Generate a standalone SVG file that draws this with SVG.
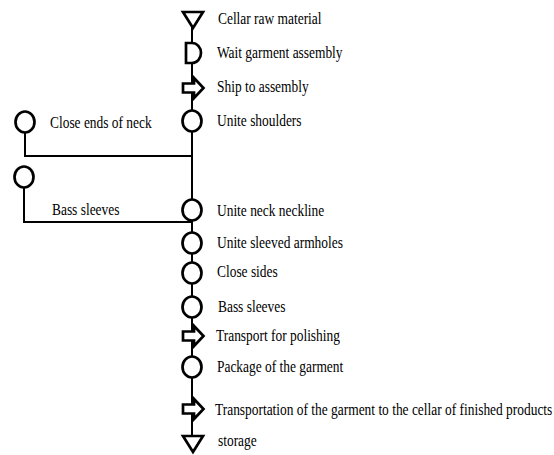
<svg xmlns="http://www.w3.org/2000/svg" width="554" height="455" viewBox="0 0 554 455">
  <defs>
    <style>
      .sym { fill: #fff; stroke: #000; stroke-width: 2.7; stroke-linejoin: miter; }
      .wire { fill: none; stroke: #000; stroke-width: 2; }
      .lbl { font-family: Liberation Serif, serif; font-size: 17px; fill: #000; }
    </style>
    <!-- process symbols, drawn around their own centre -->
    <ellipse id="op" cx="0" cy="0" rx="9.5" ry="10.5"/>
    <path id="move" d="M-9,-4.5 H2 V-10 L11.5,0 L2,10 V4.5 H-9 Z"/>
    <path id="store" d="M-10,-8 H10 L0,8 Z"/>
    <path id="wait" d="M-6,-10 H0 A9,10 0 0 1 0,10 H-6 Z"/>
  </defs>
  <rect width="554" height="455" fill="#fff"/>

  <!-- connectors -->
  <g id="connectors" class="wire">
    <line x1="192" y1="20" x2="192" y2="444"/>
    <polyline points="25,131 25,156 192,156"/>
    <polyline points="24,186 24,222 192,222"/>
  </g>

  <g id="cellar-raw-material">
    <use href="#store" class="sym" x="193" y="20"/>
    <text class="lbl" transform="translate(218 24) scale(0.79 1)">Cellar raw material</text>
  </g>
  <g id="wait-garment-assembly">
    <use href="#wait" class="sym" x="192" y="53"/>
    <text class="lbl" transform="translate(217 58) scale(0.79 1)">Wait garment assembly</text>
  </g>
  <g id="ship-to-assembly">
    <use href="#move" class="sym" x="192" y="88"/>
    <text class="lbl" transform="translate(217 92) scale(0.79 1)">Ship to assembly</text>
  </g>
  <g id="unite-shoulders">
    <use href="#op" class="sym" x="192" y="121"/>
    <text class="lbl" transform="translate(217 126) scale(0.79 1)">Unite shoulders</text>
  </g>
  <g id="close-ends-of-neck">
    <use href="#op" class="sym" x="25" y="122"/>
    <text class="lbl" transform="translate(50 128) scale(0.79 1)">Close ends of neck</text>
  </g>
  <g id="bass-sleeves-branch">
    <use href="#op" class="sym" x="24" y="177"/>
    <text class="lbl" transform="translate(52 215) scale(0.79 1)">Bass  sleeves</text>
  </g>
  <g id="unite-neck-neckline">
    <use href="#op" class="sym" x="192" y="210"/>
    <text class="lbl" transform="translate(217 216) scale(0.79 1)">Unite neck neckline</text>
  </g>
  <g id="unite-sleeved-armholes">
    <use href="#op" class="sym" x="192" y="243"/>
    <text class="lbl" transform="translate(217 248) scale(0.79 1)">Unite sleeved armholes</text>
  </g>
  <g id="close-sides">
    <use href="#op" class="sym" x="192" y="273"/>
    <text class="lbl" transform="translate(217 277) scale(0.79 1)">Close sides</text>
  </g>
  <g id="bass-sleeves">
    <use href="#op" class="sym" x="192" y="307"/>
    <text class="lbl" transform="translate(218 312) scale(0.79 1)">Bass sleeves</text>
  </g>
  <g id="transport-for-polishing">
    <use href="#move" class="sym" x="192" y="336"/>
    <text class="lbl" transform="translate(216 341) scale(0.79 1)">Transport for polishing</text>
  </g>
  <g id="package-of-the-garment">
    <use href="#op" class="sym" x="192" y="367"/>
    <text class="lbl" transform="translate(217 372) scale(0.79 1)">Package of the garment</text>
  </g>
  <g id="transport-to-cellar">
    <use href="#move" class="sym" x="192" y="409"/>
    <text class="lbl" transform="translate(215 415) scale(0.79 1)">Transportation of the garment to the cellar of finished products</text>
  </g>
  <g id="storage">
    <use href="#store" class="sym" x="193" y="444"/>
    <text class="lbl" transform="translate(218 446) scale(0.79 1)">storage</text>
  </g>
</svg>
